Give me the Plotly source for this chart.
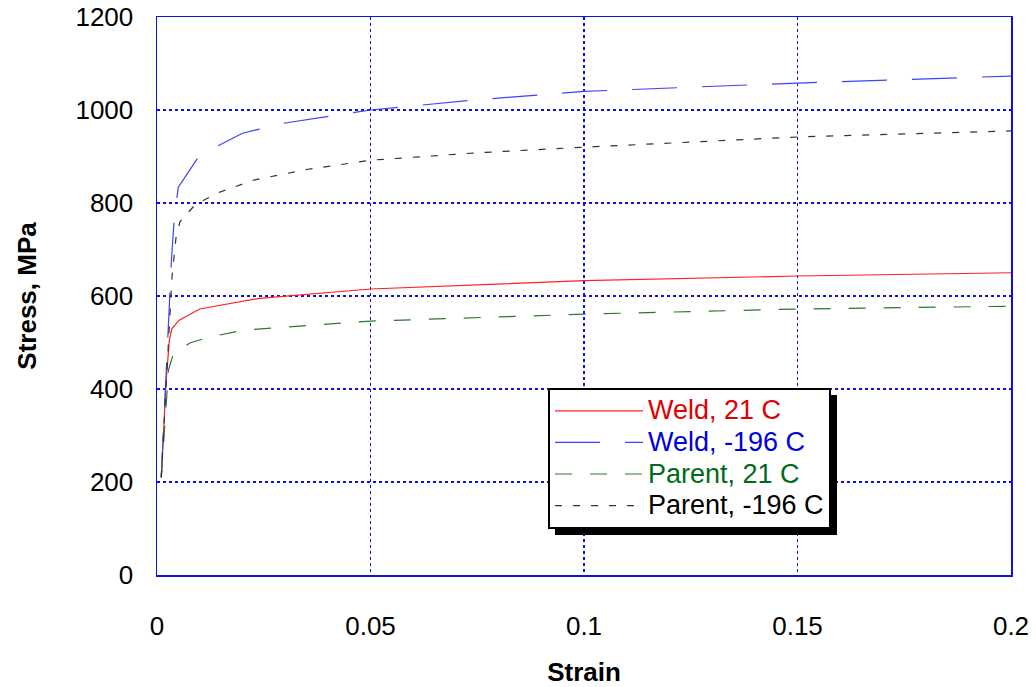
import plotly.graph_objects as go

# ---- data ----
weld21_strain = [0.001, 0.0021, 0.0029, 0.0035, 0.0052, 0.01, 0.024, 0.05, 0.1, 0.15, 0.2]
weld21_stress = [210, 413, 505, 530, 548, 572, 595, 615, 633, 643, 650]

weld196_strain = [0.001, 0.0023, 0.003, 0.0034, 0.0041, 0.005, 0.01, 0.02, 0.03, 0.05, 0.075, 0.1, 0.15, 0.2]
weld196_stress = [210, 470, 600, 680, 775, 834, 903, 950, 972, 1000, 1022, 1040, 1058, 1073]

parent21_strain = [0.001, 0.0027, 0.0038, 0.0077, 0.0124, 0.0206, 0.05, 0.1, 0.15, 0.2]
parent21_stress = [210, 441, 475, 499, 512, 527, 546, 561, 572, 578]

parent196_strain = [0.001, 0.0025, 0.0035, 0.0045, 0.0054, 0.0089, 0.014, 0.0225, 0.035, 0.05, 0.075, 0.1, 0.15, 0.2]
parent196_stress = [210, 480, 640, 730, 760, 796, 821, 849, 872, 892, 908, 920, 942, 955]

x_ticks = [0, 0.05, 0.1, 0.15, 0.2]
x_ticklabels = ["0", "0.05", "0.1", "0.15", "0.2"]
y_ticks = [0, 200, 400, 600, 800, 1000, 1200]

FONT = "Liberation Sans, Arial, sans-serif"

series = [
    ("Weld, 21 C", weld21_strain, weld21_stress, "#ff2020", "#e00000", "solid"),
    ("Weld, -196 C", weld196_strain, weld196_stress, "#4040ff", "#0000dd", "45px,25px"),
    ("Parent, 21 C", parent21_strain, parent21_stress, "#2a7a2a", "#006a1a", "17px,18px"),
    ("Parent, -196 C", parent196_strain, parent196_stress, "#333333", "#000000", "7px,11px"),
]

fig = go.Figure()
for name, xs, ys, lc, tc, dash in series:
    fig.add_trace(go.Scatter(
        x=xs, y=ys, mode="lines",
        name=f"<span style='color:{tc};font-size:27px'>{name}</span>",
        line=dict(color=lc, width=1.2, dash=dash),
    ))

# body margin is removed by the post_script below, so figure coords = page coords
W, H = 1036, 687
ml, mt = 157, 17
mr = W - 1011
mb = H - 575
pw, ph = W - ml - mr, H - mt - mb

def px2paper_x(px):
    return (px - ml) / pw

def px2paper_y(py):
    return (H - mb - py) / ph

# legend shadow (drawn under the opaque legend box)
fig.add_shape(type="rect", xref="paper", yref="paper",
              x0=px2paper_x(555), x1=px2paper_x(837),
              y0=px2paper_y(535), y1=px2paper_y(395),
              fillcolor="black", line=dict(width=0), layer="above")

fig.update_layout(
    width=W, height=H,
    margin=dict(l=ml, r=mr, t=mt, b=mb, autoexpand=False),
    paper_bgcolor="white", plot_bgcolor="white",
    font=dict(family=FONT, size=26, color="black"),
    showlegend=True,
    hovermode=False,
    legend=dict(
        x=px2paper_x(548), y=px2paper_y(388), xanchor="left", yanchor="top",
        bgcolor="white", bordercolor="black", borderwidth=2,
        font=dict(family=FONT, size=22),
        itemwidth=88,
        tracegroupgap=0,
    ),
    xaxis=dict(
        range=[0, 0.2], tickvals=x_ticks, ticktext=x_ticklabels,
        showgrid=True, gridcolor="#1010e0", griddash="dot", gridwidth=1.5,
        showline=True, linecolor="#1010e0", linewidth=1.5, mirror=True,
        zeroline=False, ticks="", ticklabelstandoff=27, automargin=False,
        ticklabeloverflow="allow",
        tickfont=dict(size=26),
        title=dict(text="<b>Strain</b>", font=dict(size=26), standoff=24),
    ),
    yaxis=dict(
        range=[0, 1200], tickvals=y_ticks,
        showgrid=True, gridcolor="#1010e0", griddash="dot", gridwidth=1.5,
        showline=True, linecolor="#1010e0", linewidth=1.5, mirror=True,
        zeroline=False, ticks="", ticklabelstandoff=17, automargin=False,
        ticklabeloverflow="allow",
        tickfont=dict(size=26),
        title=dict(text="<b>Stress, MPa</b>", font=dict(size=26), standoff=31),
    ),
)

fig.write_html(
    "out.html",
    config={"displayModeBar": False, "staticPlot": True},
    post_script="document.body.style.margin='0';document.body.style.overflow='hidden';",
)
